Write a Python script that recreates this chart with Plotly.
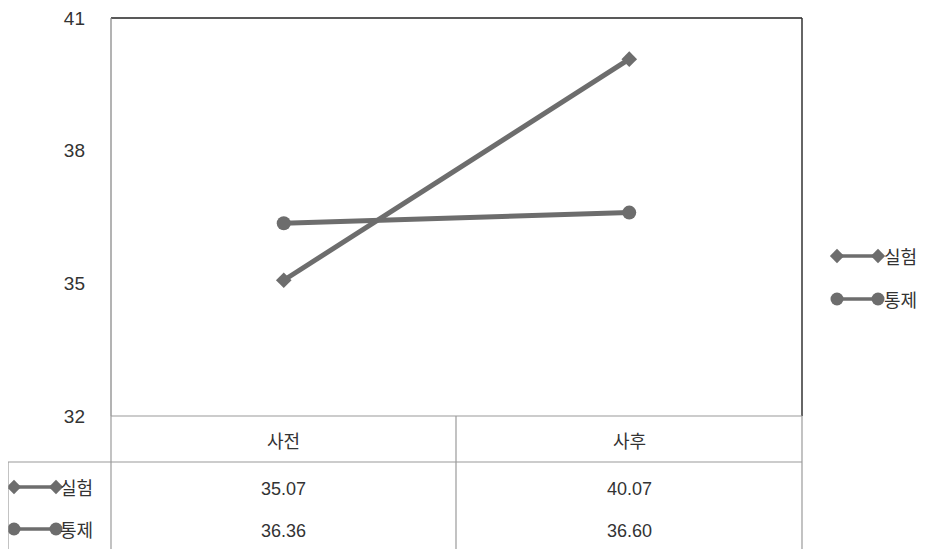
import plotly.graph_objects as go

categories = ["사전", "사후"]
series_names = ["실험", "통제"]
exp_values = [35.07, 40.07]
ctl_values = [36.36, 36.60]
exp_labels = ["35.07", "40.07"]
ctl_labels = ["36.36", "36.60"]
y_ticks = [32, 35, 38, 41]

W, H = 927, 549
OFF = 8  # page body margin compensation
L, R, T, B = 111, 802, 18, 416
LINE = "#6d6d6d"
GRID = "#9a9a9a"
FONT = "Noto Sans CJK KR, Noto Sans, DejaVu Sans"
NUMFONT = "Liberation Sans, Arial, DejaVu Sans"

def px(x):
    return (x - OFF) / W

def py(y):
    return 1 - (y - OFF) / H

fig = go.Figure()

symbols = ["diamond", "circle"]
sizes = [12, 14]
for name, vals, sym, sz in zip(series_names, [exp_values, ctl_values], symbols, sizes):
    fig.add_trace(go.Scatter(
        x=categories, y=vals, name=name, mode="lines+markers",
        line=dict(color=LINE, width=5),
        marker=dict(symbol=sym, size=sz, color=LINE),
        showlegend=False, xaxis="x", yaxis="y",
    ))

# Legend-style icons (decorations) on a pixel overlay axis
icon_rows = [
    (837, 878, 256),   # right legend 실험
    (837, 878, 299),   # right legend 통제
    (14, 56, 487),     # table row 실험
    (14, 56, 529),     # table row 통제
]
for i, (x0, x1, yy) in enumerate(icon_rows):
    k = i % 2
    fig.add_trace(go.Scatter(
        x=[x0 - OFF, x1 - OFF], y=[yy - OFF, yy - OFF], mode="lines+markers",
        line=dict(color=LINE, width=3.5),
        marker=dict(symbol=symbols[k], size=sizes[k] - 1, color=LINE),
        showlegend=False, hoverinfo="skip", xaxis="x2", yaxis="y2",
        cliponaxis=False,
    ))

fig.update_layout(
    template="none",
    width=W, height=H,
    margin=dict(l=0, r=0, t=0, b=0, pad=0, autoexpand=False),
    paper_bgcolor="white", plot_bgcolor="rgba(0,0,0,0)",
    font=dict(family=FONT, size=18, color="#333333"),
    xaxis=dict(domain=[px(L), px(R)], type="category", range=[-0.5, 1.5],
               showticklabels=False, showgrid=False, zeroline=False, ticks="",
               showline=False, automargin=False),
    yaxis=dict(domain=[py(B), py(T)], range=[32, 41], tickvals=y_ticks,
               ticktext=[str(v) for v in y_ticks], showgrid=False, zeroline=False,
               ticks="", ticklabelstandoff=25, showline=False, automargin=False,
               ticklabeloverflow="allow",
               tickfont=dict(family=NUMFONT, size=19, color="#333333")),
    xaxis2=dict(domain=[0, 1], range=[0, W], visible=False, anchor="y2", automargin=False),
    yaxis2=dict(domain=[0, 1], range=[H, 0], visible=False, anchor="x2", automargin=False),
)

shapes = []
def line(x0, y0, x1, y1, color=GRID, width=1.2):
    shapes.append(dict(type="line", xref="paper", yref="paper",
                       x0=px(x0), y0=py(y0), x1=px(x1), y1=py(y1),
                       line=dict(color=color, width=width)))

# plot frame
line(L, T, R, T, "#222222", 1.5)
line(R, T, R, B, "#333333", 1.5)
line(L, T, L, B, "#8a8a8a", 1.3)
# table
line(L, B, R, B)
line(8, 462, R, 462)
line(L, B, L, H + OFF)
line(456, B, 456, H + OFF)
line(R, B, R, H + OFF)
line(8, 462, 8, H + OFF)
fig.update_layout(shapes=shapes)

ann = []
for c in categories:
    ann.append(dict(x=c, xref="x", y=py(440), yref="paper", text=c, showarrow=False,
                    yanchor="middle", xanchor="center",
                    font=dict(family=FONT, size=18, color="#333333")))
for vals, yy in [(exp_labels, 489), (ctl_labels, 531)]:
    for c, v in zip(categories, vals):
        ann.append(dict(x=c, xref="x", y=py(yy), yref="paper", text=v, showarrow=False,
                        yanchor="middle", xanchor="center",
                        font=dict(family=NUMFONT, size=18, color="#333333")))
for name, yy in zip(series_names, [487, 529]):
    ann.append(dict(x=px(58), xref="paper", y=py(yy), yref="paper", text=name,
                    showarrow=False, xanchor="left", yanchor="middle",
                    font=dict(family=FONT, size=18, color="#333333")))
for name, yy in zip(series_names, [256, 299]):
    ann.append(dict(x=px(882), xref="paper", y=py(yy), yref="paper", text=name,
                    showarrow=False, xanchor="left", yanchor="middle",
                    font=dict(family=FONT, size=18, color="#333333")))
fig.update_layout(annotations=ann)

fig.write_html("out.html")
